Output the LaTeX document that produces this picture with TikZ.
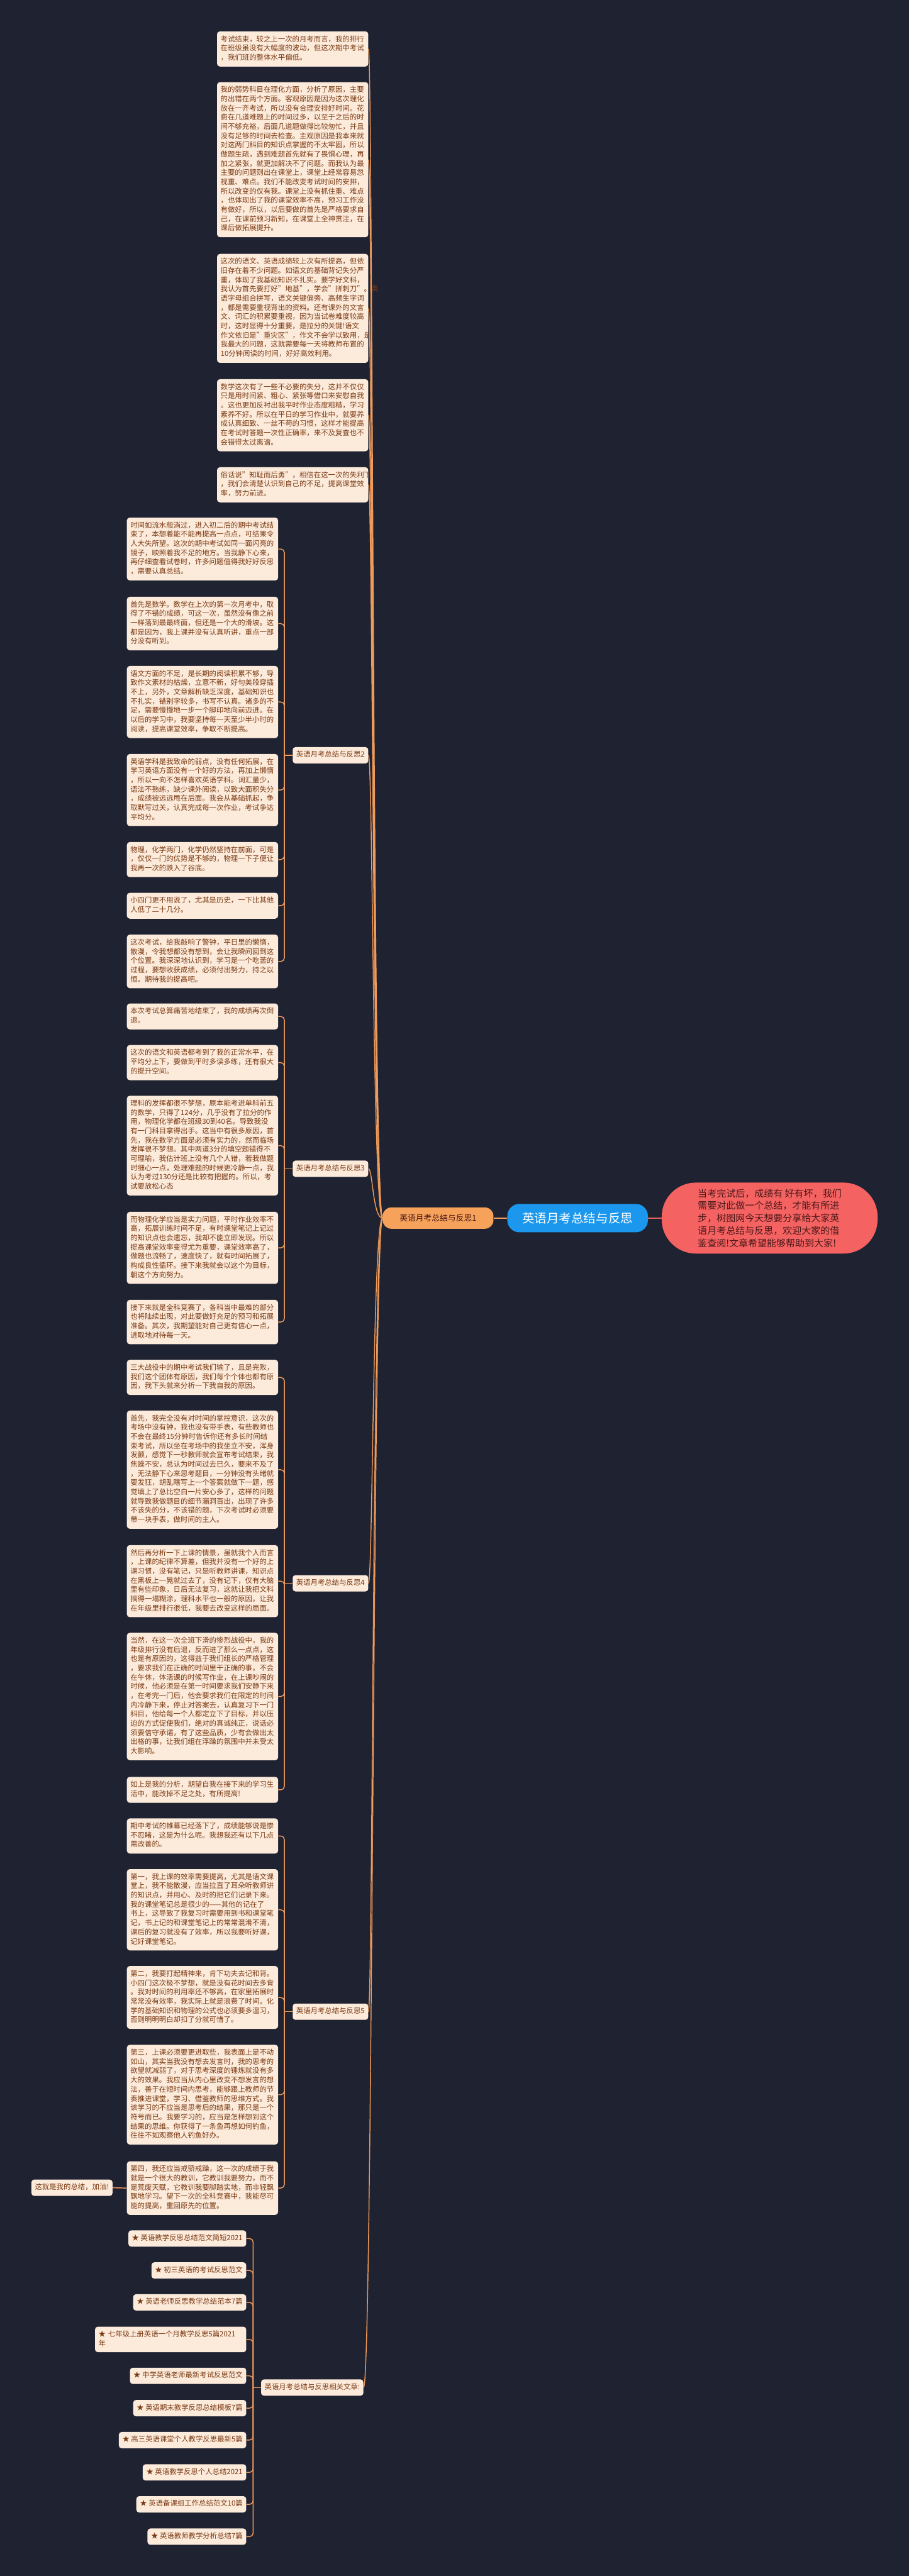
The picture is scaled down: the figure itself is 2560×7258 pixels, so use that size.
\documentclass[tikz,border=0pt]{standalone}
\usepackage{fontspec}
\setmainfont{Noto Sans CJK SC}
\definecolor{bgc}{HTML}{1F2231}
\definecolor{nodefill}{HTML}{FCEADB}
\definecolor{txtc}{HTML}{7A3A12}
\definecolor{linec}{HTML}{EE9A5A}
\definecolor{orangefill}{HTML}{F7A25A}
\definecolor{bluefill}{HTML}{1B98EE}
\definecolor{redfill}{HTML}{F56262}
\definecolor{redline}{HTML}{E06060}
\definecolor{roottxt}{HTML}{4A1818}
\tikzset{
  txt/.style={fill=nodefill, rounded corners=4pt, text=txtc, font=\fontsize{10.1pt}{13pt}\selectfont,
    align=left, text width=203pt, inner xsep=5pt, inner ysep=5.25pt, anchor=north west},
  lab/.style={fill=nodefill, rounded corners=4pt, text=txtc, font=\fontsize{10.1pt}{13pt}\selectfont,
    inner xsep=5pt, inner ysep=5pt},
  conn/.style={draw=linec, line width=1.3pt},
}
\begin{document}
\begin{tikzpicture}[x=0.5pt,y=-0.5pt]
\fill[bgc] (0,0) rectangle (2560,7258);
\useasboundingbox (0,0) rectangle (2560,7258);

% central nodes
\node[fill=redfill, rounded corners=48pt, minimum width=304pt, minimum height=100pt, text=roottxt,
  font=\fontsize{13.3pt}{17.5pt}\selectfont, align=left, inner sep=0pt] (R) at (2168,3432)
  {当考完试后，成绩有 好有坏，我们\\需要对此做一个总结，才能有所进\\步，树图网今天想要分享给大家英\\语月考总结与反思，欢迎大家的借\\鉴查阅!文章希望能够帮助到大家!};
\node[fill=bluefill, rounded corners=17pt, minimum width=198pt, minimum height=40pt, text=white,
  font=\fontsize{17.3pt}{20pt}\selectfont, inner sep=0pt] (C) at (1627,3432) {英语月考总结与反思};
\node[fill=orangefill, rounded corners=12pt, minimum width=156pt, minimum height=30pt, text=roottxt,
  font=\fontsize{11.3pt}{14pt}\selectfont, inner sep=0pt] (L1) at (1234,3432) {英语月考总结与反思1};
\draw[draw=redline, line width=1.5pt] (C.east) -- (R.west);
\draw[draw=linec, line width=1.5pt] (C.west) -- (L1.east);

% section 1
\node[txt] (s1a) at (611,88) {\strut 考试结束，较之上一次的月考而言，我的排行\\在班级虽没有大幅度的波动，但这次期中考试\\，我们班的整体水平偏低。\strut};
\node[txt] (s1b) at (611,231) {\strut 我的弱势科目在理化方面，分析了原因，主要\\的出错在两个方面。客观原因是因为这次理化\\放在一齐考试，所以没有合理安排好时间。花\\费在几道难题上的时间过多，以至于之后的时\\间不够充裕，后面几道题做得比较匆忙，并且\\没有足够的时间去检查。主观原因是我本来就\\对这两门科目的知识点掌握的不太牢固，所以\\做题生疏，遇到难题首先就有了畏惧心理，再\\加之紧张，就更加解决不了问题。而我认为最\\主要的问题则出在课堂上，课堂上经常容易忽\\视重、难点。我们不能改变考试时间的安排，\\所以改变的仅有我。课堂上没有抓住重、难点\\，也体现出了我的课堂效率不高，预习工作没\\有做好，所以，以后要做的首先是严格要求自\\己，在课前预习新知，在课堂上全神贯注，在\\课后做拓展提升。\strut};
\node[txt] (s1c) at (611,715) {\strut 这次的语文、英语成绩较上次有所提高，但依\\旧存在着不少问题。如语文的基础背记失分严\\重，体现了我基础知识不扎实。要学好文科，\\我认为首先要打好"地基"，学会"拼刺刀"。英\\语字母组合拼写，语文关键偏旁、高频生字词\\，都是需要重视背出的资料。还有课外的文言\\文、词汇的积累要重视，因为当试卷难度较高\\时，这时显得十分重要，是拉分的关键!语文\\作文依旧是"重灾区"，作文不会学以致用，是\\我最大的问题，这就需要每一天将教师布置的\\10分钟阅读的时间，好好高效利用。\strut};
\node[txt] (s1d) at (611,1068) {\strut 数学这次有了一些不必要的失分，这并不仅仅\\只是用时间紧、粗心、紧张等借口来安慰自我\\。这也更加反衬出我平时作业态度粗糙，学习\\素养不好。所以在平日的学习作业中，就要养\\成认真细致、一丝不苟的习惯，这样才能提高\\在考试时答题一次性正确率，来不及复查也不\\会错得太过离谱。\strut};
\node[txt] (s1e) at (611,1316) {\strut 俗话说"知耻而后勇"，相信在这一次的失利下\\，我们会清楚认识到自己的不足，提高课堂效\\率，努力前进。\strut};

% section 2
\node[lab, anchor=west] (L2) at (824,2128) {\strut 英语月考总结与反思2};
\node[txt] (s2a) at (357,1458) {\strut 时间如流水般淌过，进入初二后的期中考试结\\束了，本想着能不能再提高一点点，可结果令\\人大失所望。这次的期中考试如同一面闪亮的\\镜子，映照着我不足的地方。当我静下心来，\\再仔细查看试卷时，许多问题值得我好好反思\\，需要认真总结。\strut};
\node[txt] (s2b) at (357,1681) {\strut 首先是数学。数学在上次的第一次月考中，取\\得了不错的成绩，可这一次，虽然没有像之前\\一样落到最最终面，但还是一个大的滑坡。这\\都是因为，我上课并没有认真听讲，重点一部\\分没有听到。\strut};
\node[txt] (s2c) at (357,1876) {\strut 语文方面的不足，是长期的阅读积累不够，导\\致作文素材的枯燥，立意不新，好句美段穿插\\不上，另外，文章解析缺乏深度，基础知识也\\不扎实，错别字较多，书写不认真。诸多的不\\足，需要慢慢地一步一个脚印地向前迈进。在\\以后的学习中，我要坚持每一天至少半小时的\\阅读，提高课堂效率，争取不断提高。\strut};
\node[txt] (s2d) at (357,2124) {\strut 英语学科是我致命的弱点，没有任何拓展，在\\学习英语方面没有一个好的方法，再加上懒惰\\，所以一向不怎样喜欢英语学科。词汇量少，\\语法不熟练，缺少课外阅读，以致大面积失分\\，成绩被远远甩在后面。我会从基础抓起，争\\取默写过关，认真完成每一次作业，考试争达\\平均分。\strut};
\node[txt] (s2e) at (357,2372) {\strut 物理，化学两门，化学仍然坚持在前面，可是\\，仅仅一门的优势是不够的，物理一下子便让\\我再一次的跌入了谷底。\strut};
\node[txt] (s2f) at (357,2515) {\strut 小四门更不用说了，尤其是历史，一下比其他\\人低了二十几分。\strut};
\node[txt] (s2g) at (357,2633) {\strut 这次考试，给我敲响了警钟，平日里的懒惰，\\散漫，令我想都没有想到，会让我瞬间回到这\\个位置。我深深地认识到，学习是一个吃苦的\\过程，要想收获成绩，必须付出努力，持之以\\恒。期待我的提高吧。\strut};

% section 3
\node[lab, anchor=west] (L3) at (824,3293) {\strut 英语月考总结与反思3};
\node[txt] (s3a) at (357,2827) {\strut 本次考试总算痛苦地结束了，我的成绩再次倒\\退。\strut};
\node[txt] (s3b) at (357,2944) {\strut 这次的语文和英语都考到了我的正常水平，在\\平均分上下，要做到平时多读多练，还有很大\\的提升空间。\strut};
\node[txt] (s3c) at (357,3087) {\strut 理科的发挥都很不梦想，原本能考进单科前五\\的数学，只得了124分，几乎没有了拉分的作\\用，物理化学都在班级30到40名。导致我没\\有一门科目拿得出手。这当中有很多原因，首\\先，我在数学方面是必须有实力的，然而临场\\发挥很不梦想。其中两道3分的填空题错得不\\可理喻，我估计班上没有几个人错，若我做题\\时细心一点，处理难题的时候更冷静一点，我\\认为考过130分还是比较有把握的。所以，考\\试要放松心态\strut};
\node[txt] (s3d) at (357,3414) {\strut 而物理化学应当是实力问题，平时作业效率不\\高，拓展训练时间不足，有时课堂笔记上记过\\的知识点也会遗忘，我却不能立即发现。所以\\提高课堂效率变得尤为重要，课堂效率高了，\\做题也流畅了，速度快了，就有时间拓展了，\\构成良性循环。接下来我就会以这个为目标，\\朝这个方向努力。\strut};
\node[txt] (s3e) at (357,3662) {\strut 接下来就是全科竞赛了，各科当中最难的部分\\也将陆续出现，对此要做好充足的预习和拓展\\准备。其次，我期望能对自己更有信心一点，\\进取地对待每一天。\strut};

% section 4
\node[lab, anchor=west] (L4) at (824,4461) {\strut 英语月考总结与反思4};
\node[txt] (s4a) at (357,3831) {\strut 三大战役中的期中考试我们输了，且是完败，\\我们这个团体有原因，我们每个个体也都有原\\因，我下头就来分析一下我自我的原因。\strut};
\node[txt] (s4b) at (357,3974) {\strut 首先，我完全没有对时间的掌控意识，这次的\\考场中没有钟，我也没有带手表，有些教师也\\不会在最终15分钟时告诉你还有多长时间结\\束考试，所以坐在考场中的我坐立不安，浑身\\发颤，感觉下一秒教师就会宣布考试结束，我\\焦躁不安，总认为时间过去已久，要来不及了\\，无法静下心来思考题目，一分钟没有头绪就\\要发狂，胡乱瞎写上一个答案就做下一题，感\\觉填上了总比空白一片安心多了，这样的问题\\就导致我做题目的细节漏洞百出，出现了许多\\不该失的分，不该错的题，下次考试时必须要\\带一块手表，做时间的主人。\strut};
\node[txt] (s4c) at (357,4353) {\strut 然后再分析一下上课的情景，虽就我个人而言\\，上课的纪律不算差，但我并没有一个好的上\\课习惯，没有笔记，只是听教师讲课，知识点\\在黑板上一晃就过去了，没有记下，仅有大脑\\里有些印象，日后无法复习，这就让我把文科\\搞得一塌糊涂，理科水平也一般的原因，让我\\在年级里排行很低，我要去改变这样的局面。\strut};
\node[txt] (s4d) at (357,4600) {\strut 当然，在这一次全班下滑的惨烈战役中，我的\\年级排行没有后退，反而进了那么一点点，这\\也是有原因的，这得益于我们组长的严格管理\\，要求我们在正确的时间里干正确的事，不会\\在午休，体活课的时候写作业，在上课吵闹的\\时候，他必须是在第一时间要求我们安静下来\\，在考完一门后，他会要求我们在限定的时间\\内冷静下来，停止对答案去，认真复习下一门\\科目，他给每一个人都定立下了目标，并以压\\迫的方式促使我们，绝对的真诚纯正，说话必\\须要信守承诺，有了这些品质，少有会做出太\\出格的事，让我们组在浮躁的氛围中并未受太\\大影响。\strut};
\node[txt] (s4e) at (357,5006) {\strut 如上是我的分析，期望自我在接下来的学习生\\活中，能改掉不足之处，有所提高!\strut};

% section 5
\node[lab, anchor=west] (L5) at (824,5668) {\strut 英语月考总结与反思5};
\node[txt] (s5a) at (357,5123) {\strut 期中考试的帷幕已经落下了，成绩能够说是惨\\不忍睹，这是为什么呢。我想我还有以下几点\\需改善的。\strut};
\node[txt] (s5b) at (357,5266) {\strut 第一，我上课的效率需要提高，尤其是语文课\\堂上，我不能散漫，应当拉直了耳朵听教师讲\\的知识点，并用心、及时的把它们记录下来。\\我的课堂笔记总是很少的——其他的记在了\\书上，这导致了我复习时需要用到书和课堂笔\\记，书上记的和课堂笔记上的常常混淆不清，\\课后的复习就没有了效率，所以我要听好课，\\记好课堂笔记。\strut};
\node[txt] (s5c) at (357,5539) {\strut 第二，我要打起精神来，肯下功夫去记和背。\\小四门这次极不梦想，就是没有花时间去多背\\。我对时间的利用率还不够高，在家里拓展时\\常常没有效率，我实际上就是浪费了时间。化\\学的基础知识和物理的公式也必须要多温习，\\否则明明明白却扣了分就可惜了。\strut};
\node[txt] (s5d) at (357,5761) {\strut 第三，上课必须要更进取些，我表面上是不动\\如山，其实当我没有想去发言时，我的思考的\\欲望就减弱了，对于思考深度的锤炼就没有多\\大的效果。我应当从内心里改变不想发言的想\\法，善于在短时间内思考，能够跟上教师的节\\奏推进课堂，学习、借鉴教师的思维方式。我\\该学习的不应当是思考后的结果，那只是一个\\符号而已。我要学习的，应当是怎样想到这个\\结果的思维。你获得了一条鱼再想如何钓鱼，\\往往不如观察他人钓鱼好办。\strut};
\node[txt] (s5e) at (357,6089) {\strut 第四，我还应当戒骄戒躁，这一次的成绩于我\\就是一个很大的教训，它教训我要努力，而不\\是荒废天赋，它教训我要脚踏实地，而非轻飘\\飘地学习。望下一次的全科竞赛中，我能尽可\\能的提高，重回原先的位置。\strut};
\node[lab, anchor=west] (leaf) at (88,6164) {\strut 这就是我的总结，加油!};

% related articles
\node[lab, anchor=west] (Lrel) at (735,6727) {\strut 英语月考总结与反思相关文章:};
\node[lab, anchor=east] (r1) at (694,6307) {\strut ★ 英语教学反思总结范文简短2021};
\node[lab, anchor=east] (r2) at (694,6397) {\strut ★ 初三英语的考试反思范文};
\node[lab, anchor=east] (r3) at (694,6487) {\strut ★ 英语老师反思教学总结范本7篇};
\node[lab, anchor=north east, text width=203pt, align=left] (r4) at (694,6555) {\strut ★ 七年级上册英语一个月教学反思5篇2021\\年\strut};
\node[lab, anchor=east] (r5) at (694,6694) {\strut ★ 中学英语老师最新考试反思范文};
\node[lab, anchor=east] (r6) at (694,6785) {\strut ★ 英语期末教学反思总结模板7篇};
\node[lab, anchor=east] (r7) at (694,6875) {\strut ★ 高三英语课堂个人教学反思最新5篇};
\node[lab, anchor=east] (r8) at (694,6966) {\strut ★ 英语教学反思个人总结2021};
\node[lab, anchor=east] (r9) at (694,7056) {\strut ★ 英语备课组工作总结范文10篇};
\node[lab, anchor=east] (r10) at (694,7147) {\strut ★ 英语教师教学分析总结7篇};

% connectors from L1
\foreach \c in {s1a,s1b,s1c,s1d,s1e,L2,L3,L4,L5,Lrel}
  \draw[conn] (L1.west) .. controls (1050,3432) and (1050,0 |- \c.east) .. (\c.east);

% section buses
\foreach \c in {s2a,s2b,s2c,s2d,s2e,s2f,s2g}
  \draw[conn, rounded corners=5pt] (801,2128) |- (\c.east);
\draw[conn] (801,2128) -- (L2.west);
\foreach \c in {s3a,s3b,s3c,s3d,s3e}
  \draw[conn, rounded corners=5pt] (801,3293) |- (\c.east);
\draw[conn] (801,3293) -- (L3.west);
\foreach \c in {s4a,s4b,s4c,s4d,s4e}
  \draw[conn, rounded corners=5pt] (801,4461) |- (\c.east);
\draw[conn] (801,4461) -- (L4.west);
\foreach \c in {s5a,s5b,s5c,s5d,s5e}
  \draw[conn, rounded corners=5pt] (801,5668) |- (\c.east);
\draw[conn] (801,5668) -- (L5.west);
\foreach \c in {r1,r2,r3,r4,r5,r6,r7,r8,r9,r10}
  \draw[conn, rounded corners=5pt] (713,6727) |- (\c.east);
\draw[conn] (713,6727) -- (Lrel.west);
\draw[conn] (s5e.west) -- (leaf.east);
\end{tikzpicture}
\end{document}
